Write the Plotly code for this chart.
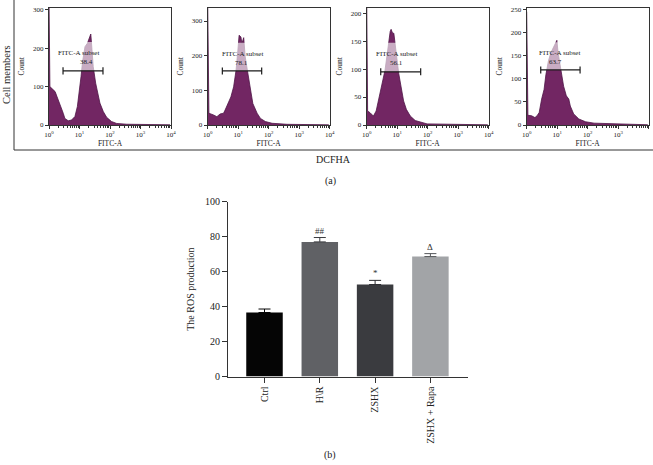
import plotly.graph_objects as go

W, H = 653, 465
SERIF = "Liberation Serif, Times New Roman, DejaVu Serif, serif"
TXT = "#222222"

# ---------------- panel (a): flow histograms (log10 FITC-A, count) ----------------
p1_log = [0, 0.03, 0.2, 0.31, 0.42, 0.47, 0.52, 0.63, 0.74, 0.85, 0.93, 0.99, 1.05, 1.10, 1.18,
          1.26, 1.32, 1.37, 1.41, 1.45, 1.53, 1.60, 1.67, 1.78, 1.89, 2.05, 2.22, 2.55, 2.98, 3.97]
p1_cnt = [330, 100, 87, 65, 39, 30, 17, 11, 13, 22, 48, 83, 126, 165, 204,
          213, 226, 237, 196, 152, 109, 83, 57, 35, 20, 9, 4, 2, 1, 0.5]

p2_log = [0, 0.04, 0.19, 0.30, 0.41, 0.52, 0.57, 0.68, 0.76, 0.85, 0.93, 0.99, 1.03, 1.09, 1.12,
          1.18, 1.23, 1.31, 1.40, 1.48, 1.62, 1.73, 1.89, 2.11, 2.6, 3.97]
p2_cnt = [360, 34, 29, 24, 32, 34, 43, 67, 81, 110, 158, 216, 259, 254, 235,
          252, 197, 153, 101, 62, 34, 19, 10, 5, 2, 0.5]

p3_log = [0, 0.03, 0.11, 0.22, 0.31, 0.38, 0.46, 0.53, 0.60, 0.66, 0.71, 0.77, 0.80, 0.85, 0.89,
          0.93, 0.99, 1.05, 1.12, 1.21, 1.30, 1.43, 1.59, 1.76, 1.98, 3.97]
p3_cnt = [230, 25, 22, 16, 25, 43, 64, 77, 98, 122, 146, 167, 171, 164, 164,
          149, 119, 92, 67, 43, 28, 16, 8, 5, 2, 0.3]

p4_log = [0, 0.04, 0.16, 0.27, 0.34, 0.41, 0.49, 0.57, 0.63, 0.71, 0.79, 0.88, 0.93, 0.99, 1.03,
          1.08, 1.14, 1.21, 1.30, 1.38, 1.43, 1.54, 1.71, 1.93, 2.21, 3.97]
p4_cnt = [245, 21, 20, 16, 20, 27, 56, 77, 109, 138, 156, 170, 177, 183, 156,
          134, 106, 84, 63, 56, 41, 24, 13, 7, 4, 0.5]

hist_logs = [p1_log, p2_log, p3_log, p4_log]
hist_cnts = [p1_cnt, p2_cnt, p3_cnt, p4_cnt]
subset_values = ["38.4", "78.1", "56.1", "63.7"]
gate_lo = [0.46, 0.48, 0.46, 0.46]     # log10 gate start
gate_hi = [1.77, 1.77, 1.77, 1.75]     # log10 gate end
gate_level = [141, 156, 95, 119]       # count at which the gate bar is drawn
box_top = [216, 237, 147, 179]         # top of label box (count)
label_x = [0.98, 1.14, 0.98, 1.08]     # log10 centre of "FITC-A subset"
value_x = [1.22, 1.12, 0.98, 0.95]     # log10 centre of value text
y_max = [306, 339, 210, 254]
y_ticks = [[0, 100, 200, 300], [0, 100, 200, 300], [0, 50, 100, 150, 200], [0, 50, 100, 150, 200, 250]]
x_tickvals = [1, 10, 100, 1000, 10000]
x_ticktext = ["10<sup>0</sup>", "10<sup>1</sup>", "10<sup>2</sup>", "10<sup>3</sup>", "10<sup>4</sup>"]

# ---------------- panel (b): ROS bar chart ----------------
groups = ["Ctrl", "H\\R", "ZSHX", "ZSHX + Rapa"]
ros_mean = [36.6, 77.0, 52.6, 68.6]
ros_err = [2.0, 2.5, 2.4, 1.7]
ros_marks = ["", "##", "*", "Δ"]
bar_colors = ["#050505", "#606165", "#3a3b3f", "#a2a4a7"]
err_colors = ["#050505", "#3a3b3f", "#2a2b2f", "#55575a"]

PURPLE = "#722663"
PURPLE_EDGE = "#4f1547"

def px_x(p):
    return p / W

def px_y(p):
    return 1 - p / H

fig = go.Figure()
layout = {}

x_dom_px = [(49, 171), (207.7, 329.7), (366.7, 488.7), (526.7, 648.7)]
y_dom_px = (7.5, 125)

annotations = []
for i in range(4):
    n = i + 1
    xa = "x" if n == 1 else f"x{n}"
    ya = "y" if n == 1 else f"y{n}"
    xs = [10 ** v for v in hist_logs[i]]
    fig.add_trace(go.Scatter(x=xs, y=hist_cnts[i], mode="lines", fill="tozeroy",
                             fillcolor=PURPLE, line=dict(color=PURPLE_EDGE, width=0.8),
                             xaxis=xa, yaxis=ya, showlegend=False, hoverinfo="skip"))
    # translucent label box
    bx0, bx1 = 10 ** (label_x[i] - 0.62), 10 ** (label_x[i] + 0.62)
    fig.add_trace(go.Scatter(x=[bx0, bx1, bx1, bx0, bx0],
                             y=[gate_level[i], gate_level[i], box_top[i], box_top[i], gate_level[i]],
                             mode="lines", fill="toself", fillcolor="rgba(255,255,255,0.62)",
                             line=dict(width=0), xaxis=xa, yaxis=ya, showlegend=False, hoverinfo="skip"))
    # gate bar with end caps
    gx0, gx1 = 10 ** gate_lo[i], 10 ** gate_hi[i]
    cap = (y_max[i]) * 0.03
    fig.add_trace(go.Scatter(x=[gx0, gx1, None, gx0, gx0, None, gx1, gx1],
                             y=[gate_level[i], gate_level[i], None,
                                gate_level[i] - cap, gate_level[i] + cap, None,
                                gate_level[i] - cap, gate_level[i] + cap],
                             mode="lines", line=dict(color="#1a1a1a", width=1.2),
                             xaxis=xa, yaxis=ya, showlegend=False, hoverinfo="skip"))
    axis_common = dict(showline=True, linecolor="#333333", linewidth=1, mirror=True,
                       showgrid=False, zeroline=False, ticks="outside", ticklen=3,
                       tickcolor="#333333", tickwidth=1, automargin=False,
                       tickfont=dict(family=SERIF, size=7, color=TXT))
    layout["xaxis" if n == 1 else f"xaxis{n}"] = dict(
        axis_common, type="log", range=[0, 4],
        domain=[px_x(x_dom_px[i][0]), px_x(x_dom_px[i][1])],
        anchor=ya, tickvals=x_tickvals, ticktext=x_ticktext,
        minor=dict(ticks="outside", ticklen=1.5, tickcolor="#333333", dtick="D1"),
        title=dict(text="FITC-A", font=dict(family=SERIF, size=7.5, color=TXT), standoff=2))
    layout["yaxis" if n == 1 else f"yaxis{n}"] = dict(
        axis_common, range=[0, y_max[i]],
        domain=[px_y(y_dom_px[1]), px_y(y_dom_px[0])],
        anchor=xa, tickvals=y_ticks[i],
        title=dict(text="Count", font=dict(family=SERIF, size=7.5, color=TXT), standoff=7))
    annotations.append(dict(x=label_x[i], y=box_top[i], xref=xa, yref=ya, text="FITC-A subset",
                            showarrow=False, yanchor="top", yshift=-5,
                            font=dict(family=SERIF, size=7, color=TXT)))
    annotations.append(dict(x=value_x[i], y=box_top[i], xref=xa, yref=ya, text=subset_values[i],
                            showarrow=False, yanchor="top", yshift=-14,
                            font=dict(family=SERIF, size=7, color=TXT)))

# bar chart
for j in range(4):
    fig.add_trace(go.Bar(x=[groups[j]], y=[ros_mean[j]], width=0.66,
                         marker=dict(color=bar_colors[j], line=dict(width=0)),
                         error_y=dict(type="data", array=[ros_err[j]], arrayminus=[0],
                                      symmetric=False, thickness=1, width=6, color=err_colors[j]),
                         xaxis="x5", yaxis="y5", showlegend=False, hoverinfo="skip"))
    if ros_marks[j]:
        annotations.append(dict(x=groups[j], y=ros_mean[j] + ros_err[j], xref="x5", yref="y5",
                                text=ros_marks[j], showarrow=False, yanchor="bottom", yshift=0,
                                font=dict(family=SERIF, size=9, color="#333333")))

layout["xaxis5"] = dict(domain=[px_x(228), px_x(468)], anchor="y5", range=[-0.66, 3.68],
                        showline=True, linecolor="#333333", linewidth=1, ticks="outside",
                        ticklen=5, tickcolor="#333333", tickangle=-90, showgrid=False,
                        automargin=False,
                        tickfont=dict(family=SERIF, size=10, color=TXT))
layout["yaxis5"] = dict(domain=[px_y(376.5), px_y(201.7)], anchor="x5", range=[0, 100],
                        tickvals=[0, 20, 40, 60, 80, 100], showline=True, linecolor="#333333",
                        linewidth=1, ticks="outside", ticklen=5, tickcolor="#333333",
                        showgrid=False, zeroline=False, automargin=False,
                        tickfont=dict(family=SERIF, size=10, color=TXT),
                        title=dict(text="The ROS production", font=dict(family=SERIF, size=10, color=TXT),
                                   standoff=8))

annotations += [
    dict(x=px_x(7), y=px_y(75), xref="paper", yref="paper", text="Cell members", textangle=-90,
         xanchor="center", yanchor="middle",
         showarrow=False, font=dict(family=SERIF, size=10.5, color=TXT)),
    dict(x=px_x(333), y=px_y(159), xref="paper", yref="paper", text="DCFHA",
         xanchor="center", yanchor="middle",
         showarrow=False, font=dict(family=SERIF, size=10, color=TXT)),
    dict(x=px_x(330), y=px_y(181), xref="paper", yref="paper", text="(a)",
         xanchor="center", yanchor="middle",
         showarrow=False, font=dict(family=SERIF, size=10, color=TXT)),
    dict(x=px_x(330), y=px_y(455), xref="paper", yref="paper", text="(b)",
         xanchor="center", yanchor="middle",
         showarrow=False, font=dict(family=SERIF, size=10, color=TXT)),
]

shapes = [
    dict(type="line", xref="paper", yref="paper", x0=px_x(14), x1=px_x(14), y0=px_y(0), y1=px_y(150),
         line=dict(color="#333333", width=1)),
    dict(type="line", xref="paper", yref="paper", x0=px_x(14), x1=px_x(653), y0=px_y(150), y1=px_y(150),
         line=dict(color="#333333", width=1)),
]

fig.update_layout(width=W, height=H, margin=dict(l=0, r=0, t=0, b=0, autoexpand=False),
                  paper_bgcolor="white", plot_bgcolor="white", barmode="overlay",
                  annotations=annotations, shapes=shapes, **layout)

fig.write_html("out.html", config={"displayModeBar": False},
               post_script="document.body.style.margin='0';document.body.style.overflow='hidden';")
